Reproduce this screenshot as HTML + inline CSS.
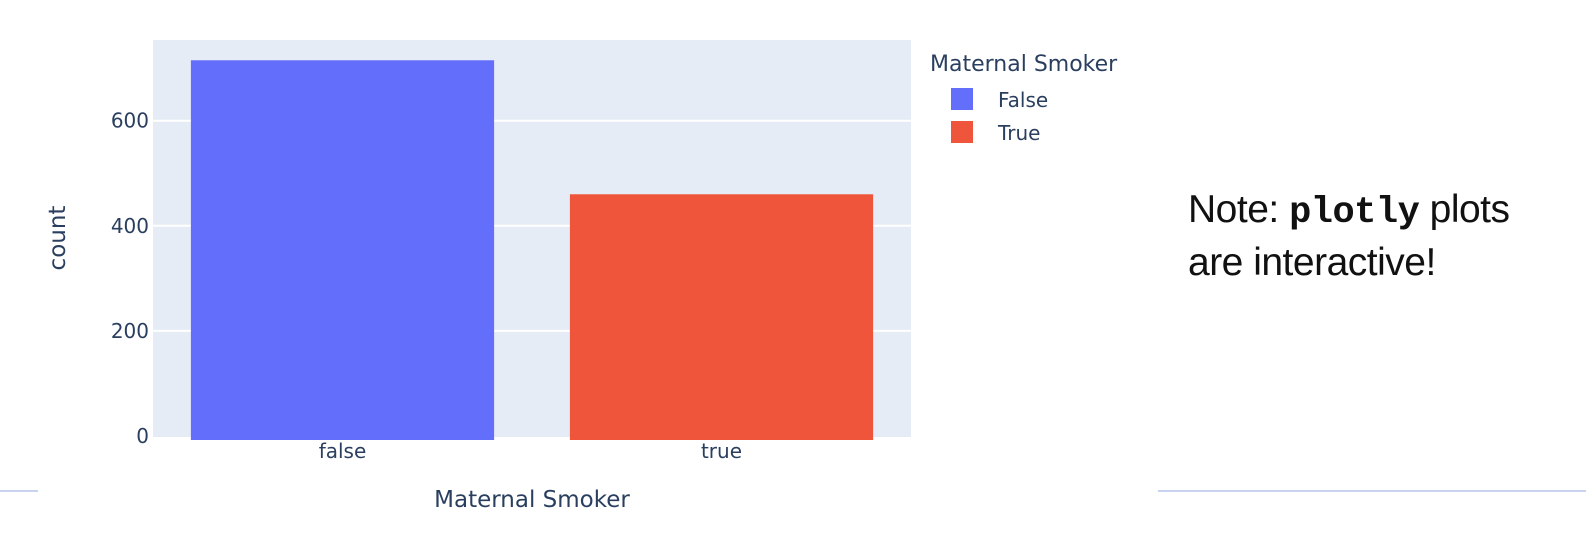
<!DOCTYPE html>
<html><head><meta charset="utf-8"><style>
body{margin:0;width:1586px;height:530px;background:#fff;overflow:hidden;position:relative;font-family:"Liberation Sans",sans-serif}
svg text{font-family:"DejaVu Sans","Liberation Sans",sans-serif;fill:#2a3f5f}
.note{position:absolute;left:1188px;top:185px;font-size:39px;line-height:50px;color:#111;font-family:"Liberation Sans",sans-serif;letter-spacing:-0.5px}
.note code{font-family:"Liberation Mono",monospace;font-weight:bold;font-size:37px}
</style></head><body>
<svg id="chart" width="1586" height="530">
<rect x="153" y="40" width="758" height="397" fill="#e5ecf6"/>
<g id="grid"></g><g id="bars"></g><g id="ticks"></g>
<text x="532" y="507" font-size="23" text-anchor="middle">Maternal Smoker</text>
<text transform="translate(65,238) rotate(-90)" font-size="23" text-anchor="middle">count</text>
<text x="930" y="71" font-size="22">Maternal Smoker</text>
<g><rect x="951" y="88" width="22" height="22" fill="#636efa"/><text x="998" y="107" font-size="20">False</text></g>
<g><rect x="951" y="121" width="22" height="22" fill="#ef553b"/><text x="998" y="140" font-size="20">True</text></g>
<line x1="0" y1="491" x2="38" y2="491" stroke="#c8d4ee" stroke-width="2"/>
<line x1="1158" y1="491" x2="1586" y2="491" stroke="#c8d4ee" stroke-width="2"/>
</svg>
<div class="note">Note: <code>plotly</code> plots<br>are interactive!</div>
<script>
const categories=["false","true"];
const counts=[715,460];
const colors=["#636efa","#ef553b"];
const yTicks=[0,200,400,600];
const ns="http://www.w3.org/2000/svg";
const x0=153,w=758,y0=436,pxPer=105.1/200;
const band=w/categories.length;
function y(v){return y0-v*pxPer;}
function xc(i){return x0+band*(i+0.5);}
const grid=document.getElementById('grid'),bars=document.getElementById('bars'),ticks=document.getElementById('ticks');
yTicks.forEach(t=>{
 if(t>0){const l=document.createElementNS(ns,'line');
 l.setAttribute('x1',x0);l.setAttribute('x2',x0+w);l.setAttribute('y1',y(t));l.setAttribute('y2',y(t));
 l.setAttribute('stroke','#fff');l.setAttribute('stroke-width','2');
 
 
 grid.appendChild(l);}
 const tx=document.createElementNS(ns,'text');
 tx.setAttribute('x',x0-4);tx.setAttribute('y',y(t)+7);tx.setAttribute('text-anchor','end');tx.setAttribute('font-size','20');
 tx.textContent=t;
 
 
 ticks.appendChild(tx);
});
categories.forEach((c,i)=>{
 const bw=band*0.8;
 const r=document.createElementNS(ns,'rect');
 r.setAttribute('x',xc(i)-bw/2);r.setAttribute('width',bw);
 r.setAttribute('y',y(counts[i]));r.setAttribute('height',y0+4-y(counts[i]));
 r.setAttribute('fill',colors[i]);
 
 
 bars.appendChild(r);
 const tx=document.createElementNS(ns,'text');
 tx.setAttribute('x',xc(i));tx.setAttribute('y',458);tx.setAttribute('text-anchor','middle');tx.setAttribute('font-size','20');
 tx.textContent=c;
 
 
 ticks.appendChild(tx);
});
</script>
</body></html>
